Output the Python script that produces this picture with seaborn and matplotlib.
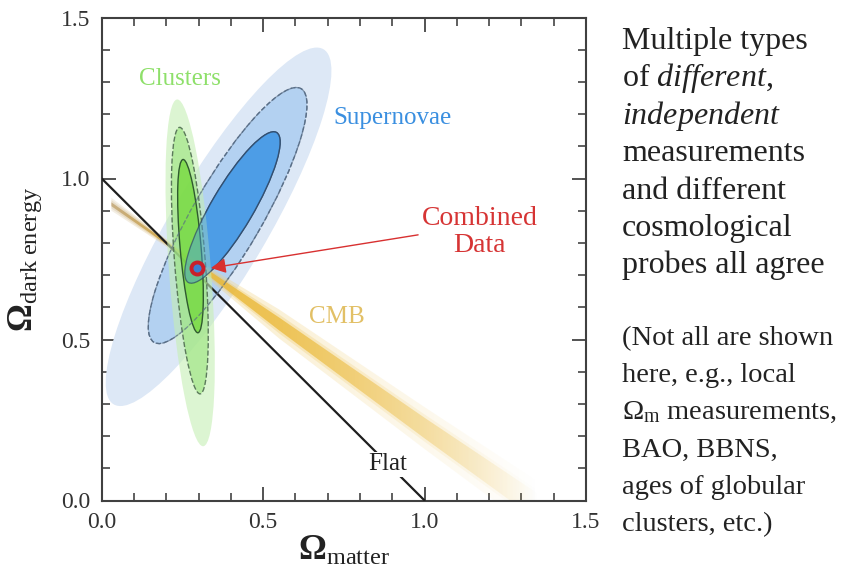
import numpy as np
import pandas as pd
import matplotlib
matplotlib.use("Agg")
import matplotlib.pyplot as plt
from matplotlib.patches import Ellipse, Polygon
from matplotlib.ticker import MultipleLocator, FormatStrFormatter
import seaborn as sns

# ---------------- data ----------------
levels = ["99.7%", "95%", "68%"]

# Supernovae confidence ellipses (outer -> inner)
sn_center_x = [0.362, 0.390, 0.405]
sn_center_y = [0.850, 0.885, 0.910]
sn_length = [1.28, 0.91, 0.54]
sn_width = [0.30, 0.215, 0.13]
sn_angle = [59.5, 60.0, 59.6]

# Clusters confidence ellipses (outer -> inner)
cl_center_x = [0.274, 0.273, 0.275]
cl_center_y = [0.707, 0.745, 0.790]
cl_length = [1.08, 0.83, 0.54]
cl_width = [0.13, 0.095, 0.065]
cl_angle = [94.3, 94.4, 94.9]

# CMB degeneracy band
cmb_x = [0.03, 0.25, 0.55, 1.00, 1.35]
cmb_y = [0.92, 0.765, 0.548, 0.225, -0.02]
cmb_core = [0.006, 0.004, 0.020, 0.032, 0.042]
cmb_halo = [0.020, 0.009, 0.045, 0.065, 0.080]
cmb_strength = [0.55, 1.0, 0.85, 0.40, 0.0]

# flat universe line
flat_x = [0.0, 1.0]
flat_y = [1.0, 0.0]

# combined best fit
comb_x = [0.295]
comb_y = [0.722]

ticks = [0.0, 0.5, 1.0, 1.5]

right_text_1 = ["Multiple types", r"of $\mathit{different}$,", r"$\mathit{independent}$",
                "measurements", "and different", "cosmological", "probes all agree"]
right_text_2 = ["(Not all are shown", "here, e.g., local", r"$\Omega_{\mathrm{m}}$ measurements,",
                "BAO, BBNS,", "ages of globular", "clusters, etc.)"]

# ---------------- style ----------------
sns.set_theme(style="ticks")
plt.rcParams["font.family"] = ["Liberation Serif", "DejaVu Serif"]
plt.rcParams["mathtext.fontset"] = "custom"
plt.rcParams["mathtext.rm"] = "Liberation Serif"
plt.rcParams["mathtext.it"] = "Liberation Serif:italic"
plt.rcParams["mathtext.bf"] = "Liberation Serif:bold"

W, H = 846, 567
fig = plt.figure(figsize=(W / 100, H / 100), dpi=100)
fig.patch.set_facecolor("white")
ax = fig.add_axes([101.7 / W, (H - 500.5) / H, 484.3 / W, 483.0 / H])
ax.set_facecolor("white")

# ---------------- Supernovae ----------------
sn_face = ["#dde8f6", "#b3d1f1", "#4d9de6"]
sn_edge = ["none", "#5a6f88", "#2f4a6a"]
sn_ls = ["-", "--", "-"]
for i in range(3):
    ax.add_patch(Ellipse((sn_center_x[i], sn_center_y[i]), sn_length[i], sn_width[i],
                         angle=sn_angle[i], facecolor=sn_face[i], edgecolor=sn_edge[i],
                         linestyle=sn_ls[i], lw=1.0, zorder=2 + 0.1 * i))

# ---------------- CMB band (gradient) ----------------
gx = np.linspace(0, 1.5, 600)
strength = np.interp(gx, cmb_x, cmb_strength)
brown = np.array([0.62, 0.46, 0.20])
gold = np.array([0.92, 0.72, 0.20])
mix = np.clip(gx / 0.30, 0, 1)[:, None]
cols = brown * (1 - mix) + gold * mix


def band(half, layer_alpha, color_shift=0.0):
    upper = [(x, y + h) for x, y, h in zip(cmb_x, cmb_y, half)]
    lower = [(x, y - h) for x, y, h in zip(cmb_x, cmb_y, half)][::-1]
    poly = Polygon(upper + lower, closed=True, transform=ax.transData)
    img = np.zeros((2, len(gx), 4))
    c = cols + color_shift * (1 - cols)
    img[:, :, :3] = c[None, :, :]
    img[:, :, 3] = (strength * layer_alpha)[None, :]
    im = ax.imshow(img, extent=[0, 1.5, 0, 1.5], origin="lower", aspect="auto",
                   interpolation="bilinear", zorder=3)
    im.set_clip_path(poly)


band(cmb_halo, 0.35, 0.35)
band([h * 0.65 for h in cmb_halo], 0.35, 0.2)
band(cmb_core, 0.85, 0.0)

# ---------------- Flat line ----------------
sns.lineplot(x=flat_x, y=flat_y, ax=ax, color="#1e1e1e", lw=1.6, zorder=3.5)

# ---------------- Clusters ----------------
cl_face = ["#c6efb4", "#98e47a", "#6fd832"]
cl_alpha = [0.6, 0.6, 0.7]
cl_edge = ["none", "#5b7a5b", "#2f5a2f"]
for i in range(3):
    ax.add_patch(Ellipse((cl_center_x[i], cl_center_y[i]), cl_length[i], cl_width[i],
                         angle=cl_angle[i], facecolor=cl_face[i], alpha=cl_alpha[i],
                         edgecolor="none", zorder=4 + 0.1 * i))
    if cl_edge[i] != "none":
        ax.add_patch(Ellipse((cl_center_x[i], cl_center_y[i]), cl_length[i], cl_width[i],
                             angle=cl_angle[i], facecolor="none", edgecolor=cl_edge[i],
                             linestyle=sn_ls[i], lw=1.0, zorder=4.5))

# SN inner overlay for blended look
ax.add_patch(Ellipse((sn_center_x[2], sn_center_y[2]), sn_length[2], sn_width[2],
                     angle=sn_angle[2], facecolor=sn_face[2], alpha=0.45,
                     edgecolor="none", zorder=4.6))
for i in (1, 2):
    ax.add_patch(Ellipse((sn_center_x[i], sn_center_y[i]), sn_length[i], sn_width[i],
                         angle=sn_angle[i], facecolor="none", edgecolor=sn_edge[i],
                         linestyle=sn_ls[i], lw=0.9, alpha=0.7, zorder=4.7))

# ---------------- Combined point & arrow ----------------
sns.scatterplot(x=comb_x, y=comb_y, ax=ax, s=75, marker="o", facecolor="#3b7fd0",
                edgecolor="#c8202a", linewidth=2.8, zorder=6)
ax.annotate("", xy=(0.338, 0.722), xytext=(0.98, 0.825),
            arrowprops=dict(arrowstyle="-|>,head_length=0.6,head_width=0.3",
                            color="#d83030", lw=1.0, shrinkA=0, shrinkB=0,
                            mutation_scale=15), zorder=6)

# ---------------- labels in plot ----------------
ax.text(0.241, 1.31, "Clusters", color="#8ee06a", fontsize=18, ha="center", va="center", zorder=7)
ax.text(0.90, 1.187, "Supernovae", color="#3a8fe0", fontsize=18, ha="center", va="center", zorder=7)
ax.text(1.17, 0.835, "Combined\nData", color="#d63434", fontsize=20, ha="center", va="center",
        linespacing=1.1, zorder=7)
ax.text(0.728, 0.57, "CMB", color="#e2c066", fontsize=18, ha="center", va="center", zorder=7)
ax.text(0.885, 0.112, "Flat", color="#222222", fontsize=18, ha="center", va="center", zorder=7,
        bbox=dict(facecolor="white", edgecolor="none", pad=1.0))

# ---------------- axes ----------------
ax.set_xlim(0, 1.5)
ax.set_ylim(0, 1.5)
ax.set_xticks(ticks)
ax.set_yticks(ticks)
ax.xaxis.set_minor_locator(MultipleLocator(0.1))
ax.yaxis.set_minor_locator(MultipleLocator(0.1))
ax.xaxis.set_major_formatter(FormatStrFormatter("%.1f"))
ax.yaxis.set_major_formatter(FormatStrFormatter("%.1f"))
ax.tick_params(which="both", direction="in", top=True, right=True, colors="#444444",
               labelcolor="#333333")
ax.tick_params(which="major", length=10, width=1.3, labelsize=17, pad=8)
ax.tick_params(which="minor", length=5.5, width=1.2)
for s in ax.spines.values():
    s.set_color("#404040")
    s.set_linewidth(1.5)
ax.grid(False)

ax.set_xlabel(r"$\mathbf{\Omega}_{\mathrm{matter}}$", fontsize=25, color="#222222")
ax.set_ylabel(r"$\mathbf{\Omega}_{\mathrm{dark\ energy}}$", fontsize=25, color="#222222")
ax.xaxis.set_label_coords(0.5, -0.07)
ax.yaxis.set_label_coords(-0.12, 0.5)

# ---------------- right-side text ----------------
x0 = 622 / W
for k, line in enumerate(right_text_1):
    base = 49 + k * 37.4
    fig.text(x0, 1 - base / H, line, fontsize=23, color="#222222", ha="left", va="baseline")
for k, line in enumerate(right_text_2):
    base = 345 + k * 37.2
    fig.text(x0, 1 - base / H, line, fontsize=20.5, color="#222222", ha="left", va="baseline")

fig.savefig("out.png", dpi=100, facecolor="white")
